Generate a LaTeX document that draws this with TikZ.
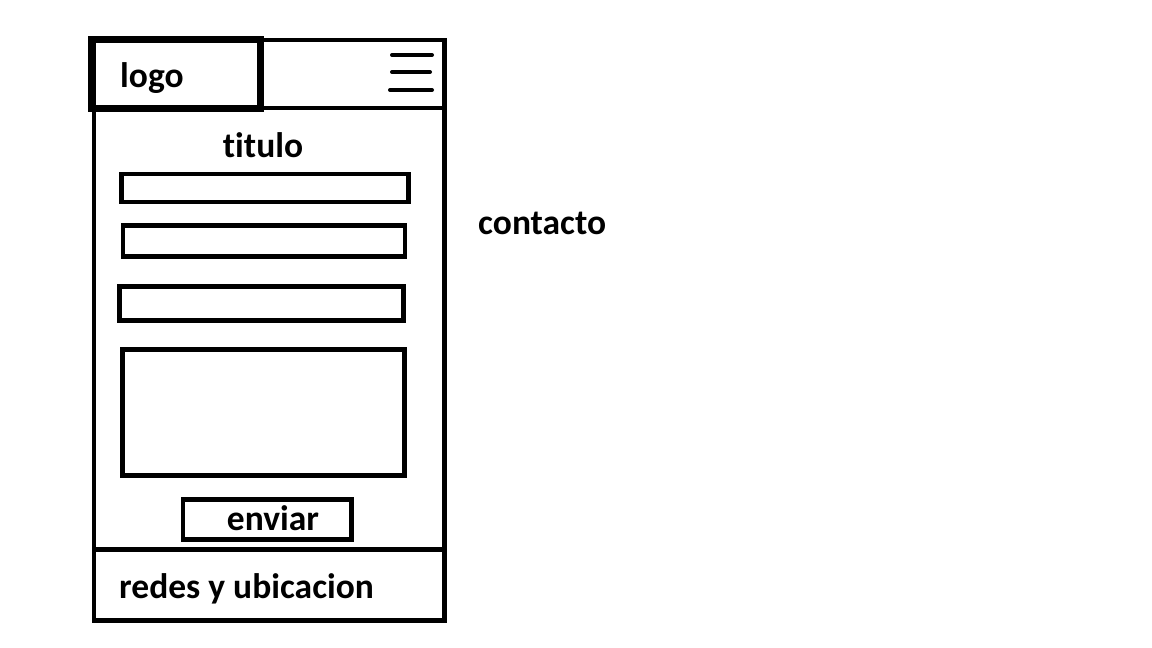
\documentclass[tikz,border=0pt]{standalone}
\usepackage{fontspec}
\setmainfont[Ligatures=NoCommon]{Carlito}
\begin{document}
\begin{tikzpicture}[x=1pt,y=-1pt,
    box/.style={draw, line width=4.5pt},
    txt/.style={inner sep=0pt, font=\bfseries\fontsize{35.5}{38}\selectfont}]
                \useasboundingbox (0,0) rectangle (1152,648);
                \draw[box] (94,40) rectangle (444.5,620.5);
                \draw[box] (94,108) -- (444.5,108);
                \draw[box] (94,549.5) -- (444.5,549.5);
                \draw[draw, line width=7pt] (91,39) rectangle (260,108);
                \draw[line width=4pt, line cap=round] (392,55) -- (432,55);
                \draw[line width=4pt, line cap=round] (392,72) -- (430,72);
                \draw[line width=4pt, line cap=round] (390,90) -- (432,90);

                \node[txt, anchor=base west](logo) at (120,87) {logo};
                \node[txt, anchor=base](titulo) at (263,157) {titulo};
                \node[txt, anchor=base west](contacto) at (478,234) {contacto};

                \draw[box] (121.5,174) rectangle (408.5,202);
                \draw[box] (123,225.5) rectangle (405,256.5);
                \draw[box] (119.5,286.5) rectangle (403.5,320.5);
                \draw[box] (122.5,349.5) rectangle (404.5,475.5);

                \draw[box] (183,499.5) rectangle (351.5,539.5);
                \node[txt, anchor=base](enviar) at (273,530) {enviar};
                \node[txt, anchor=base west](redes) at (119,598) {redes y ubicacion};
            \end{tikzpicture}
\end{document}
